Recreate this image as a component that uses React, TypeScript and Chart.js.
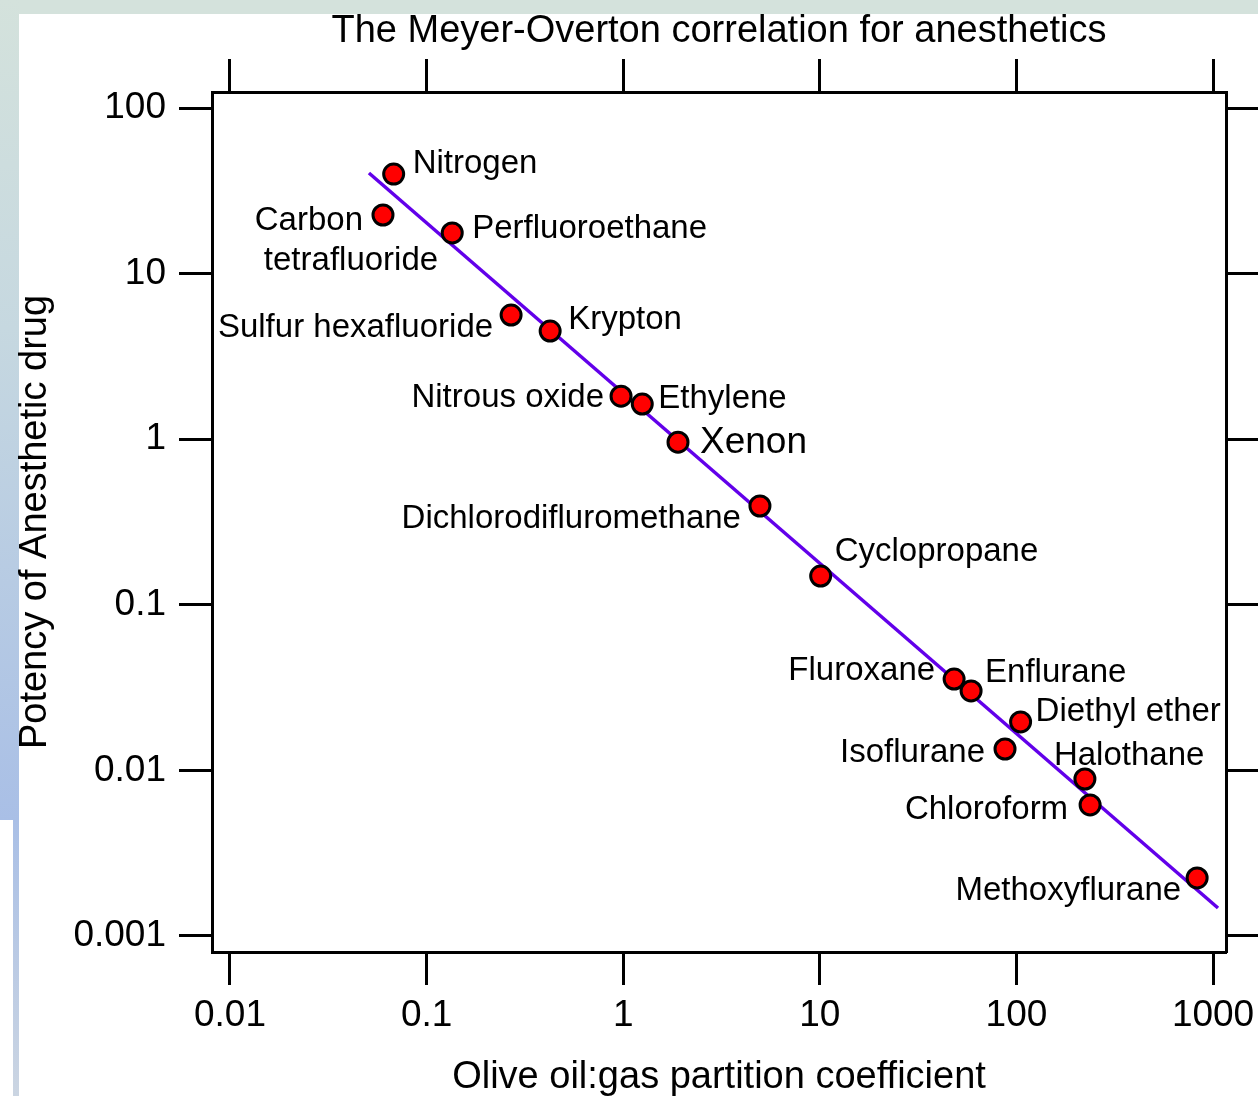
import React, { useEffect, useRef } from "react";
import { Chart, registerables } from "chart.js";

Chart.register(...registerables);

// ---- data ----
const anesthetics = [
  "Nitrogen",
  "Carbon tetrafluoride",
  "Perfluoroethane",
  "Sulfur hexafluoride",
  "Krypton",
  "Nitrous oxide",
  "Ethylene",
  "Xenon",
  "Dichlorodifluromethane",
  "Cyclopropane",
  "Fluroxane",
  "Enflurane",
  "Diethyl ether",
  "Isoflurane",
  "Halothane",
  "Chloroform",
  "Methoxyflurane",
];
const oilGasPartition = [
  0.068, 0.06, 0.135, 0.269, 0.425, 0.975, 1.25, 1.9, 4.96, 10.1, 48.2, 58.8, 105, 87.5, 223, 237, 830,
];
const potency = [
  39.9, 22.6, 17.6, 5.62, 4.5, 1.82, 1.63, 0.96, 0.395, 0.149, 0.0356, 0.0302, 0.0196, 0.01346, 0.00887,
  0.00618, 0.00224,
];
const fitLineX = [0.0509, 1060];
const fitLineY = [40.5, 0.001476];

const xTickValues = [0.01, 0.1, 1, 10, 100, 1000];
const xTickLabels = ["0.01", "0.1", "1", "10", "100", "1000"];
const yTickValues = [0.001, 0.01, 0.1, 1, 10, 100];
const yTickLabels = ["0.001", "0.01", "0.1", "1", "10", "100"];
const xRange = [0.0081, 1164];
const yRange = [0.0008, 125];

const chartTitle = "The Meyer-Overton correlation for anesthetics";
const xTitle = "Olive oil:gas partition coefficient";
const yTitle = "Potency of Anesthetic drug";

// ---- label placement (pixel offsets from each point; one entry per text line) ----
type Piece = { align: CanvasTextAlign; dx: number; dy: number; size?: number };
const labelPlacement: Piece[][] = [
  [{ align: "left", dx: 19, dy: -1 }],
  [
    { align: "right", dx: -20, dy: 15 },
    { align: "center", dx: -32, dy: 55 },
  ],
  [{ align: "left", dx: 20, dy: 5 }],
  [{ align: "right", dx: -18, dy: 22 }],
  [{ align: "left", dx: 18, dy: -2 }],
  [{ align: "right", dx: -17, dy: 11 }],
  [{ align: "left", dx: 16, dy: 4 }],
  [{ align: "left", dx: 22, dy: 11, size: 37 }],
  [{ align: "right", dx: -19, dy: 22 }],
  [{ align: "left", dx: 14, dy: -15 }],
  [{ align: "right", dx: -19, dy: 1 }],
  [{ align: "left", dx: 14, dy: -9 }],
  [{ align: "left", dx: 15, dy: -1 }],
  [{ align: "right", dx: -20, dy: 13 }],
  [{ align: "left", dx: -31, dy: -14 }],
  [{ align: "right", dx: -22, dy: 14 }],
  [{ align: "right", dx: -16, dy: 22 }],
];

const FONT = "'Liberation Sans', Arial, Helvetica, sans-serif";
const W = 1258;
const H = 1096;

const annotatePlugin = {
  id: "annotate",
  afterDatasetsDraw(chart: any) {
    const ctx = chart.ctx as CanvasRenderingContext2D;
    const meta = chart.getDatasetMeta(0);
    ctx.save();
    ctx.fillStyle = "#000";
    ctx.textBaseline = "alphabetic";
    anesthetics.forEach((name, i) => {
      const el = meta.data[i];
      if (!el) return;
      const pieces = labelPlacement[i];
      const lines = pieces.length > 1 ? name.split(" ") : [name];
      pieces.forEach((p, k) => {
        ctx.font = `${p.size ?? 33}px ${FONT}`;
        ctx.textAlign = p.align;
        ctx.fillText(lines[k], el.x + p.dx, el.y + p.dy);
      });
    });
    ctx.restore();
  },
  afterDraw(chart: any) {
    const ctx = chart.ctx as CanvasRenderingContext2D;
    const ca = chart.chartArea;
    const cx = (ca.left + ca.right) / 2;
    const cy = (ca.top + ca.bottom) / 2;
    ctx.save();
    ctx.fillStyle = "#000";
    ctx.textBaseline = "alphabetic";
    ctx.textAlign = "center";
    ctx.font = `38px ${FONT}`;
    ctx.fillText(chartTitle, cx, 42);
    ctx.font = `38px ${FONT}`;
    ctx.fillText(xTitle, cx, 1088);
    ctx.translate(46, cy);
    ctx.rotate(-Math.PI / 2);
    ctx.fillText(yTitle, 0, 0);
    ctx.restore();
  },
};

function axisCommon(extra: any) {
  return {
    type: "logarithmic",
    grid: {
      drawOnChartArea: false,
      drawTicks: true,
      tickLength: 33,
      tickWidth: 3,
      tickColor: "#000",
    },
    border: { display: true, color: "#000", width: 3 },
    ...extra,
  };
}

export default function App() {
  const canvasRef = useRef<HTMLCanvasElement | null>(null);

  useEffect(() => {
    if (!canvasRef.current) return;
    const points = oilGasPartition.map((x, i) => ({ x, y: potency[i] }));
    const linePts = fitLineX.map((x, i) => ({ x, y: fitLineY[i] }));

    const setXTicks = (s: any) => {
      s.ticks = xTickValues.map((v) => ({ value: v }));
    };
    const setYTicks = (s: any) => {
      s.ticks = yTickValues.map((v) => ({ value: v }));
    };
    const tickFont = { size: 37, family: FONT };

    const chart = new Chart(canvasRef.current, {
      type: "scatter",
      data: {
        datasets: [
          {
            label: "Anesthetics",
            data: points,
            backgroundColor: "#ff0000",
            borderColor: "#000000",
            borderWidth: 3,
            pointRadius: 10,
            pointHoverRadius: 10,
          },
          {
            label: "Fit",
            data: linePts,
            showLine: true,
            borderColor: "#6200ea",
            borderWidth: 3.5,
            pointRadius: 0,
            fill: false,
          },
        ],
      },
      options: {
        responsive: false,
        animation: false,
        events: [],
        layout: { padding: 0 },
        plugins: {
          legend: { display: false },
          title: { display: false },
          tooltip: { enabled: false },
        },
        scales: {
          x: axisCommon({
            position: "bottom",
            min: xRange[0],
            max: xRange[1],
            afterBuildTicks: setXTicks,
            ticks: {
              callback: (_v: any, i: number) => xTickLabels[i],
              font: tickFont,
              color: "#000",
              padding: 9,
              maxRotation: 0,
              minRotation: 0,
              autoSkip: false,
            },
            afterFit: (s: any) => {
              s.height = 144;
              s.paddingLeft = 0;
              s.paddingRight = 0;
            },
          }),
          xTop: axisCommon({
            position: "top",
            min: xRange[0],
            max: xRange[1],
            afterBuildTicks: setXTicks,
            ticks: { display: false },
            afterFit: (s: any) => {
              s.height = 92;
              s.paddingLeft = 0;
              s.paddingRight = 0;
            },
          }),
          y: axisCommon({
            position: "left",
            min: yRange[0],
            max: yRange[1],
            afterBuildTicks: setYTicks,
            ticks: {
              callback: (_v: any, i: number) => yTickLabels[i],
              font: tickFont,
              color: "#000",
              padding: 13,
              autoSkip: false,
            },
            afterFit: (s: any) => {
              s.width = 212;
              s.paddingTop = 0;
              s.paddingBottom = 0;
            },
          }),
          yRight: axisCommon({
            position: "right",
            min: yRange[0],
            max: yRange[1],
            afterBuildTicks: setYTicks,
            ticks: { display: false },
            afterFit: (s: any) => {
              s.width = 32;
              s.paddingTop = 0;
              s.paddingBottom = 0;
            },
          }),
        },
      } as any,
      plugins: [annotatePlugin],
    });
    return () => chart.destroy();
  }, []);

  return (
    <div
      style={{
        position: "fixed",
        left: 0,
        top: 0,
        width: W,
        height: H,
        background: "#ffffff",
        overflow: "hidden",
      }}
    >
      <div style={{ position: "absolute", left: 0, top: 0, width: W, height: 14, background: "#d4e2dc" }} />
      <div
        style={{
          position: "absolute",
          left: 0,
          top: 0,
          width: 19,
          height: 820,
          background: "linear-gradient(#d4e2dc, #c6d8e0 40%, #a9bfe6)",
        }}
      />
      <div
        style={{
          position: "absolute",
          left: 13,
          top: 820,
          width: 6,
          height: H - 820,
          background: "linear-gradient(#a9bfe6, #cbd5e2)",
        }}
      />
      <canvas
        ref={canvasRef}
        width={W}
        height={H}
        style={{ position: "absolute", left: 0, top: 0, width: W, height: H, display: "block" }}
      />
    </div>
  );
}
